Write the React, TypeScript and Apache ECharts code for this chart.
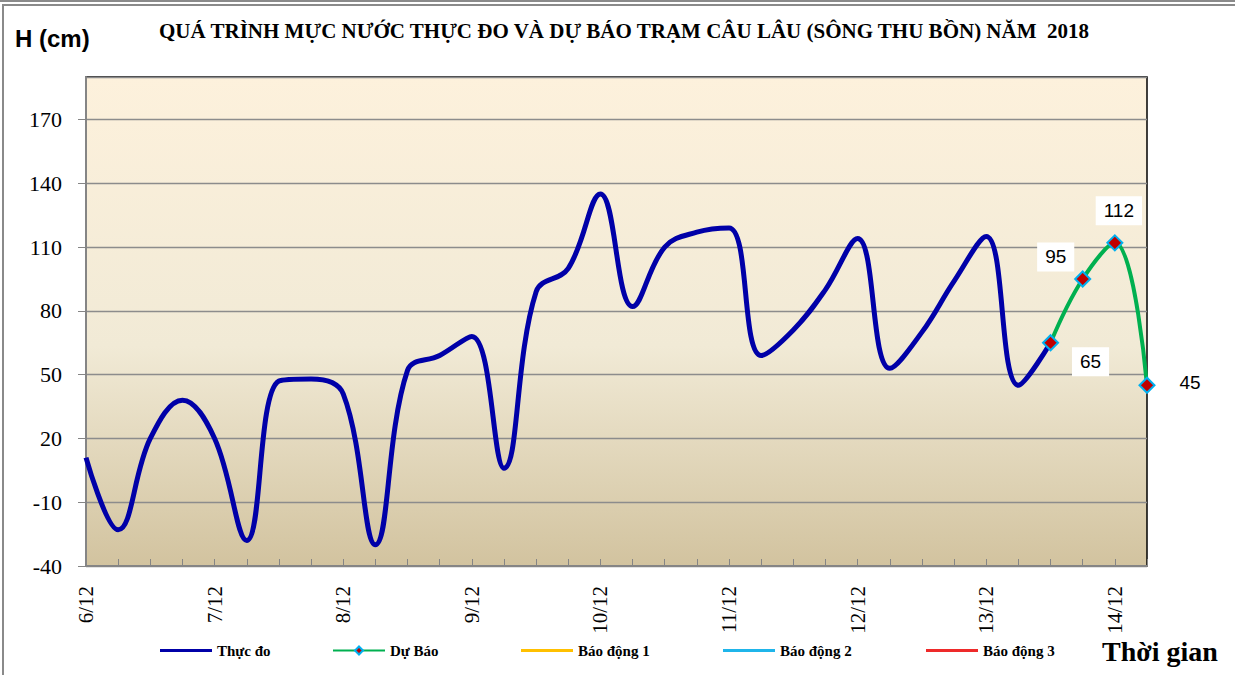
import React, { useEffect, useRef } from "react";
import * as echarts from "echarts";

// ---- data ----
const days = ["6/12", "7/12", "8/12", "9/12", "10/12", "11/12", "12/12", "13/12", "14/12"];
const hours = ["01h", "07h", "13h", "19h"];
const pointCount = 34;
const observed = [
  11, -23, 20, 38, 20, -28, 47, 48, 41, -30,
  52, 59, 68, 6, 89, 100, 135, 82, 110, 117,
  119, 59, 71, 90, 114, 53, 70, 94, 115, 45, 65,
];
const forecast = [65, 95, 112, 45];
const forecastStart = 30;
const alarm1: number[] = [];
const alarm2: number[] = [];
const alarm3: number[] = [];
const yMin = -40;
const yMax = 190;
const yInterval = 30;
const seriesNames = ["Thực đo", "Dự Báo", "Báo động 1", "Báo động 2", "Báo động 3"];
const titleText = "QUÁ TRÌNH MỰC NƯỚC THỰC ĐO VÀ DỰ BÁO TRẠM CÂU LÂU (SÔNG THU BỒN) NĂM  2018";
const yAxisTitle = "H (cm)";
const xAxisTitle = "Thời gian";

const categories: string[] = [];
days.forEach((d) => hours.forEach((h) => categories.push(d + " " + h)));
const cats = categories.slice(0, pointCount);

const labelOffsets: [number, number][] = [
  [40, 19],
  [-27, -22],
  [4, -32],
  [43, -3],
];

const SERIF = "Liberation Serif";

export default function App() {
  const ref = useRef<HTMLDivElement>(null);
  useEffect(() => {
    if (!ref.current) return;
    const chart = echarts.init(ref.current, undefined, { renderer: "svg" });

    const forecastData: any[] = cats.map(() => "-");
    forecast.forEach((v, k) => {
      forecastData[forecastStart + k] = {
        value: v,
        label: {
          show: true,
          position: "inside",
          offset: labelOffsets[k],
          formatter: String(v),
          fontFamily: "Liberation Sans",
          fontSize: 19,
          color: "#000",
          backgroundColor: "#fff",
          padding: [5, 8],
        },
      };
    });

    const legendLefts = [155, 327, 516, 718, 921];
    const legendText = {
      fontFamily: SERIF,
      fontWeight: "bold",
      fontSize: 15,
      color: "#000",
    };

    const option: any = {
      animation: false,
      backgroundColor: "#fff",
      grid: {
        left: 86,
        right: 88,
        top: 77,
        bottom: 109,
        show: true,
        borderColor: "#000",
        borderWidth: 1.5,
        backgroundColor: new echarts.graphic.LinearGradient(0, 0, 0, 1, [
          { offset: 0, color: "#FDF1DC" },
          { offset: 0.55, color: "#F1EAD6" },
          { offset: 1, color: "#D2C39F" },
        ]),
      },
      legend: seriesNames.map((n, i) => ({
        data: [n],
        left: legendLefts[i],
        top: 638,
        itemWidth: 52,
        itemHeight: i === 1 ? 10 : 3,
        icon: i === 1 ? undefined : "rect",
        textStyle: legendText,
        selectedMode: false,
      })),
      xAxis: {
        type: "category",
        data: cats,
        boundaryGap: false,
        axisLine: { onZero: false, lineStyle: { color: "#858585", width: 2 } },
        axisTick: {
          show: true,
          inside: true,
          length: 7,
          interval: 0,
          lineStyle: { color: "#858585", width: 1 },
        },
        axisLabel: {
          interval: 3,
          rotate: 90,
          margin: 20,
          fontFamily: SERIF,
          fontSize: 21,
          color: "#000",
          formatter: (v: string) => v.split(" ")[0],
        },
        splitLine: { show: false },
      },
      yAxis: {
        type: "value",
        min: yMin,
        max: yMax,
        interval: yInterval,
        axisLine: { show: true, lineStyle: { color: "#858585", width: 2 } },
        axisTick: { show: true, length: 8, lineStyle: { color: "#858585" } },
        axisLabel: {
          margin: 24,
          showMaxLabel: false,
          fontFamily: SERIF,
          fontSize: 22,
          color: "#000",
        },
        splitLine: { show: true, lineStyle: { color: "#8C8C8C", width: 1.3 } },
      },
      series: [
        {
          name: seriesNames[0],
          type: "line",
          data: observed,
          smooth: 0.4,
          symbol: "none",
          lineStyle: { color: "#0000A8", width: 5 },
          itemStyle: { color: "#0000A8" },
          z: 2,
        },
        {
          name: seriesNames[1],
          type: "line",
          data: forecastData,
          smooth: 0.4,
          symbol: "diamond",
          symbolSize: 15,
          lineStyle: { color: "#00B050", width: 4 },
          itemStyle: { color: "#C00000", borderColor: "#00B0F0", borderWidth: 2 },
          z: 3,
        },
        {
          name: seriesNames[2],
          type: "line",
          data: alarm1,
          symbol: "none",
          lineStyle: { color: "#FFC000", width: 3 },
          itemStyle: { color: "#FFC000" },
        },
        {
          name: seriesNames[3],
          type: "line",
          data: alarm2,
          symbol: "none",
          lineStyle: { color: "#1FB5EA", width: 3 },
          itemStyle: { color: "#1FB5EA" },
        },
        {
          name: seriesNames[4],
          type: "line",
          data: alarm3,
          symbol: "none",
          lineStyle: { color: "#EE2A2A", width: 3 },
          itemStyle: { color: "#EE2A2A" },
        },
      ],
      graphic: [
        {
          type: "rect",
          shape: { x: 3, y: 5, width: 1240, height: 680 },
          style: { fill: "none", stroke: "#8A8A8A", lineWidth: 2 },
          silent: true,
        },
        {
          type: "line",
          shape: { x1: 0, y1: 1, x2: 1235, y2: 1 },
          style: { stroke: "#8A8A8A", lineWidth: 2 },
          silent: true,
        },
        {
          type: "text",
          x: 15,
          y: 38,
          style: {
            text: yAxisTitle,
            font: "bold 24px 'Liberation Sans'",
            fill: "#000",
            textVerticalAlign: "middle",
          },
        },
        {
          type: "text",
          x: 624,
          y: 31,
          style: {
            text: titleText,
            font: "bold 21px 'Liberation Serif'",
            fill: "#000",
            textAlign: "center",
            textVerticalAlign: "middle",
          },
        },
        {
          type: "text",
          x: 1102,
          y: 651,
          style: {
            text: xAxisTitle,
            font: "bold 28px 'Liberation Serif'",
            fill: "#000",
            textVerticalAlign: "middle",
          },
        },
      ],
    };
    chart.setOption(option);
    return () => chart.dispose();
  }, []);
  return (
    <div
      ref={ref}
      style={{ position: "fixed", left: 0, top: 0, width: 1235, height: 675 }}
    />
  );
}
